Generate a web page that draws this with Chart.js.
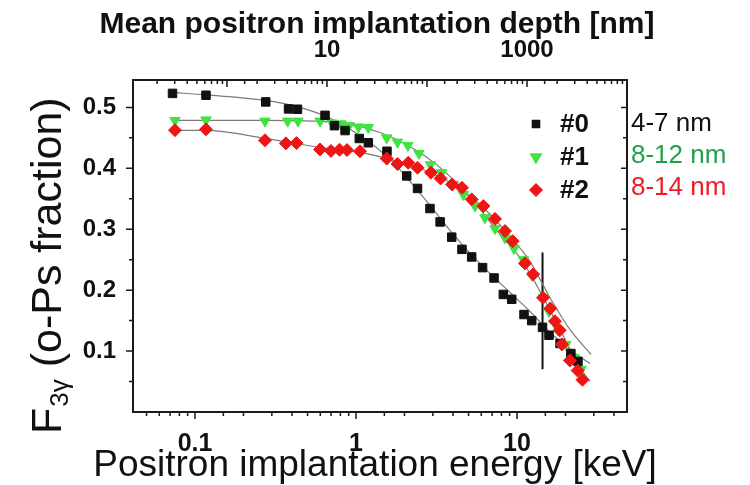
<!DOCTYPE html>
<html>
<head>
<meta charset="utf-8">
<script src="https://cdn.jsdelivr.net/npm/chart.js@4.4.1/dist/chart.umd.min.js"></script>
<style>
  html, body { margin: 0; padding: 0; background: #fff; }
</style>
</head>
<body>
<canvas id="chart" width="750" height="485"></canvas>
<script>
// sample #0 (4-7 nm)
const energy0 = [0.0725, 0.117, 0.275, 0.381, 0.433, 0.642, 0.735, 0.855, 1.048, 1.192, 1.557, 2.065, 2.41, 2.88, 3.33, 3.93, 4.55, 5.23, 6.11, 7.20, 8.22, 9.27, 11.05, 12.34, 14.4, 15.8, 18.5, 21.6, 23.9];
const fraction0 = [0.523, 0.520, 0.509, 0.4975, 0.497, 0.487, 0.470, 0.462, 0.449, 0.442, 0.428, 0.3875, 0.367, 0.334, 0.312, 0.287, 0.267, 0.2545, 0.237, 0.220, 0.193, 0.185, 0.160, 0.150, 0.139, 0.126, 0.1125, 0.096, 0.083];

// sample #1 (8-12 nm)
const energy1 = [0.0751, 0.117, 0.272, 0.376, 0.436, 0.598, 0.710, 0.807, 0.905, 1.036, 1.192, 1.551, 1.81, 2.10, 2.46, 2.90, 3.40, 4.02, 4.64, 5.49, 6.32, 7.30, 8.42, 9.58, 10.95, 12.4, 14.6, 15.8, 18.0, 20.1, 22.6, 25.0];
const fraction1 = [0.4786, 0.4795, 0.4775, 0.4775, 0.4775, 0.4775, 0.4745, 0.473, 0.470, 0.468, 0.467, 0.450, 0.443, 0.4376, 0.4245, 0.406, 0.393, 0.3736, 0.357, 0.338, 0.319, 0.301, 0.286, 0.2685, 0.250, 0.224, 0.188, 0.165, 0.135, 0.111, 0.0895, 0.070];

// sample #2 (8-14 nm)
const energy2 = [0.0751, 0.117, 0.272, 0.367, 0.427, 0.598, 0.699, 0.790, 0.879, 1.059, 1.551, 1.81, 2.11, 2.41, 2.92, 3.35, 3.95, 4.55, 5.23, 6.18, 7.30, 8.42, 9.40, 11.2, 12.6, 14.5, 16.1, 17.2, 18.4, 19.0, 21.3, 23.8, 25.5];
const fraction2 = [0.4627, 0.464, 0.446, 0.441, 0.4414, 0.431, 0.4286, 0.4305, 0.430, 0.428, 0.416, 0.407, 0.409, 0.401, 0.393, 0.3834, 0.3736, 0.368, 0.349, 0.338, 0.317, 0.297, 0.2805, 0.244, 0.226, 0.1875, 0.170, 0.149, 0.134, 0.111, 0.0846, 0.068, 0.053];

// fitted curves (thin grey lines)
const fitE0 = [0.072, 0.117, 0.272, 0.449, 0.690, 1.059, 1.63, 2.165, 2.88, 3.84, 5.11, 6.80, 9.05, 12.05, 16.0, 21.3, 28.4];
const fitF0 = [0.5246, 0.5205, 0.5115, 0.500, 0.482, 0.454, 0.4146, 0.3785, 0.3391, 0.298, 0.2603, 0.2274, 0.1962, 0.165, 0.131, 0.1026, 0.0796];
const fitE1 = [0.072, 0.117, 0.272, 0.598, 0.918, 1.41, 2.165, 3.32, 5.11, 7.84, 10.4, 13.9, 18.5, 24.6, 28.4];
const fitF1 = [0.4787, 0.4787, 0.4787, 0.4770, 0.4721, 0.4589, 0.4359, 0.4015, 0.3522, 0.2915, 0.2537, 0.1979, 0.1355, 0.0731, 0.0501];
const fitE2 = [0.072, 0.117, 0.272, 0.598, 1.059, 1.63, 2.50, 3.84, 5.89, 9.05, 12.05, 16.0, 21.3, 28.8];
const fitF2 = [0.4622, 0.4622, 0.4491, 0.4343, 0.4261, 0.4146, 0.3998, 0.3768, 0.3407, 0.2882, 0.2471, 0.188, 0.1355, 0.0944];

// vertical marker
const markE = [14.4, 14.4];
const markF = [0.262, 0.07];

const seriesNames = ["#0", "#1", "#2"];
const sizeLabels = ["4-7 nm", "8-12 nm", "8-14 nm"];
const bottomTicks = [0.1, 1, 10];
const topTicks = [10, 1000];

// axis ranges, depth = A * E^n
const energyMin = 0.0412, energyMax = 48.2;
const depthA = 19.5, depthN = 1.61;

const axisColor = "#1a1a1a";
const colors = ["#111111", "#3fe33f", "#ee1515"];
const labelColors = ["#111111", "#22a04b", "#ee1c25"];
const styles = [
    { pointStyle: "rect", radius: 6, rotation: 0 },
    { pointStyle: "triangle", radius: 6, rotation: 180 },
    { pointStyle: "rectRot", radius: 6.5, rotation: 0 },
];
const FONT = "'Liberation Sans', Arial, sans-serif";

Chart.defaults.font.family = FONT;
Chart.defaults.color = "#111";

function pts(xs, ys) {
    return xs.map((x, i) => ({ x: x, y: ys[i] }));
}
function near(a, b) {
    return Math.abs(a - b) < 1e-9 * Math.max(1, Math.abs(b));
}
function isDecade(v) {
    const l = Math.log10(v);
    return Math.abs(l - Math.round(l)) < 1e-6;
}

const decorations = {
    id: "decorations",
    afterDraw(chart) {
        const ctx = chart.ctx;
        const a = chart.chartArea;
        const sx = chart.scales.x, sx2 = chart.scales.x2, sy = chart.scales.y;
        ctx.save();
        ctx.strokeStyle = axisColor;
        ctx.lineWidth = 2;
        ctx.strokeRect(a.left, a.top, a.right - a.left, a.bottom - a.top);

        ctx.lineWidth = 1.5;
        ctx.beginPath();
        sx.ticks.forEach(function (t) {
            if (t.value <= sx.min * 1.0001 || t.value >= sx.max * 0.9999) return;
            const p = sx.getPixelForValue(t.value);
            const len = isDecade(t.value) ? 7 : 4;
            ctx.moveTo(p, a.bottom);
            ctx.lineTo(p, a.bottom + len);
        });
        sx2.ticks.forEach(function (t) {
            if (t.value <= sx2.min * 1.0001 || t.value >= sx2.max * 0.9999) return;
            const p = sx2.getPixelForValue(t.value);
            const len = isDecade(t.value) ? 7 : 4;
            ctx.moveTo(p, a.top);
            ctx.lineTo(p, a.top + len);
        });
        sy.ticks.forEach(function (t) {
            if (t.value <= sy.min + 1e-6 || t.value >= sy.max - 1e-6) return;
            const p = sy.getPixelForValue(t.value);
            const major = Math.abs(t.value * 10 - Math.round(t.value * 10)) < 1e-6;
            ctx.moveTo(a.left, p);
            ctx.lineTo(a.left - (major ? 7 : 4), p);
            ctx.moveTo(a.right, p);
            ctx.lineTo(a.right - (major ? 6 : 4), p);
        });
        ctx.stroke();

        // legend inside the plot
        for (let i = 0; i < 3; i++) {
            const y = 124 + i * 33;
            ctx.fillStyle = colors[i];
            ctx.strokeStyle = colors[i];
            Chart.helpers.drawPoint(ctx, {
                pointStyle: styles[i].pointStyle,
                rotation: styles[i].rotation,
                radius: i === 0 ? 5 : 6,
                borderWidth: 1,
            }, 536, y);
            ctx.fillStyle = "#111";
            ctx.font = "bold 26px " + FONT;
            ctx.textAlign = "left";
            ctx.textBaseline = "middle";
            ctx.fillText(seriesNames[i], 560, y + 1);
            ctx.fillStyle = labelColors[i];
            ctx.font = "26px " + FONT;
            ctx.fillText(sizeLabels[i], 631, y - i * 1);
        }

        // axis titles
        ctx.fillStyle = "#111";
        ctx.textAlign = "center";
        ctx.textBaseline = "alphabetic";
        ctx.font = "bold 30px " + FONT;
        ctx.fillText("Mean positron implantation depth [nm]", 377, 33);
        ctx.font = "37px " + FONT;
        ctx.fillText("Positron implantation energy [keV]", 375, 476);

        // y axis title with subscript
        ctx.translate(61, 434);
        ctx.rotate(-Math.PI / 2);
        ctx.textAlign = "left";
        ctx.font = "43px " + FONT;
        ctx.fillText("F", 0, 0);
        let w = ctx.measureText("F").width;
        ctx.font = "26px " + FONT;
        ctx.fillText("3\u03b3", w + 1, 7);
        w += ctx.measureText("3\u03b3").width + 1;
        ctx.font = "43px " + FONT;
        ctx.fillText(" (o-Ps fraction)", w, 0);
        ctx.restore();
    },
};

const datasets = [
    {
        data: pts(energy2, fraction2), order: 0,
        backgroundColor: colors[2], borderColor: colors[2], borderWidth: 1,
        pointStyle: styles[2].pointStyle, pointRadius: styles[2].radius,
    },
    {
        data: pts(energy0, fraction0), order: 1,
        backgroundColor: colors[0], borderColor: colors[0], borderWidth: 1,
        pointStyle: styles[0].pointStyle, pointRadius: styles[0].radius,
    },
    {
        data: pts(energy1, fraction1), order: 2,
        backgroundColor: colors[1], borderColor: colors[1], borderWidth: 1,
        pointStyle: styles[1].pointStyle, pointRadius: styles[1].radius,
        pointRotation: styles[1].rotation,
    },
];
[[fitE0, fitF0], [fitE1, fitF1], [fitE2, fitF2]].forEach(function (f) {
    datasets.push({
        data: pts(f[0], f[1]), order: 3, showLine: true,
        borderColor: "#7a7a7a", borderWidth: 1.2, pointRadius: 0,
        cubicInterpolationMode: "monotone",
    });
});
datasets.push({
    data: pts(markE, markF), order: 3, showLine: true,
    borderColor: "#111", borderWidth: 2, pointRadius: 0,
});

new Chart(document.getElementById("chart"), {
    type: "scatter",
    data: { datasets: datasets },
    options: {
        responsive: false,
        animation: false,
        layout: { padding: { left: 0, right: 123, top: 0, bottom: 0 } },
        plugins: { legend: { display: false }, tooltip: { enabled: false } },
        scales: {
            x: {
                type: "logarithmic",
                position: "bottom",
                min: energyMin,
                max: energyMax,
                grid: { display: false },
                border: { display: false },
                ticks: {
                    autoSkip: false, maxRotation: 0, padding: 9,
                    font: { size: 25, weight: "bold" }, color: "#111",
                    callback: (v) => bottomTicks.some((t) => near(v, t)) ? String(v) : "",
                },
                afterFit: (s) => { s.height = 73; },
            },
            x2: {
                type: "logarithmic",
                position: "top",
                min: depthA * Math.pow(energyMin, depthN),
                max: depthA * Math.pow(energyMax, depthN),
                grid: { display: false },
                border: { display: false },
                ticks: {
                    autoSkip: false, maxRotation: 0, padding: 7,
                    font: { size: 24, weight: "bold" }, color: "#111",
                    callback: (v) => topTicks.some((t) => near(v, t)) ? String(v) : "",
                },
                afterFit: (s) => { s.height = 80; },
            },
            y: {
                type: "linear",
                position: "left",
                min: 0,
                max: 0.545,
                grid: { display: false },
                border: { display: false },
                ticks: {
                    stepSize: 0.05, autoSkip: false, padding: 9,
                    font: { size: 24, weight: "bold" }, color: "#111",
                    callback: function (v) {
                        const major = Math.abs(v * 10 - Math.round(v * 10)) < 1e-6;
                        return major && v > 0.05 && v < 0.54 ? v.toFixed(1) : "";
                    },
                },
                afterFit: (s) => { s.width = 133; },
            },
        },
    },
    plugins: [decorations],
});
</script>
</body>
</html>
